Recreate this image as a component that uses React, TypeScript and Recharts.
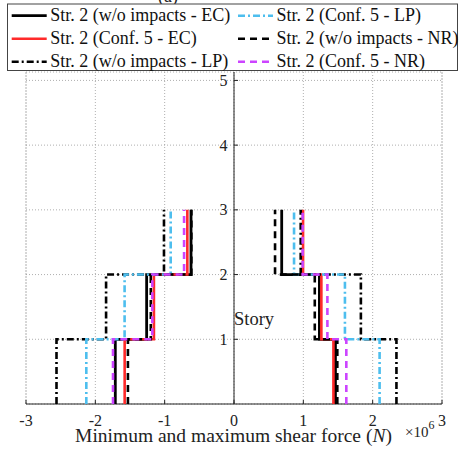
import React from 'react';
import { ScatterChart, Scatter, XAxis, YAxis, CartesianGrid, ReferenceLine } from 'recharts';

// Story levels (segment i spans stories[i] .. stories[i+1])
const stories = [0, 1, 2, 3];
const xTicks = [-3, -2, -1, 0, 1, 2, 3];
const yTicks = [1, 2, 3, 4, 5];
const edgeX = [-3, 3];

// Shear force values in units of 10^6 N, for story segments 1, 2, 3
const woEC_min = [-1.712, -1.26, -0.62];
const woEC_max = [1.463, 1.232, 0.688];
const c5EC_min = [-1.577, -1.155, -0.673];
const c5EC_max = [1.434, 1.26, 0.996];
const woLP_min = [-2.56, -1.845, -1.01];
const woLP_max = [2.343, 1.83, 0.962];
const c5LP_min = [-2.13, -1.578, -0.913];
const c5LP_max = [2.1, 1.6, 0.866];
const woNR_min = [-1.53, -1.2, -0.615];
const woNR_max = [1.49, 1.165, 0.592];
const c5NR_min = [-1.745, -1.178, -0.72];
const c5NR_max = [1.62, 1.347, 0.99];

const seriesNames = [
  'Str. 2 (w/o impacts - EC)',
  'Str. 2 (Conf. 5 - EC)',
  'Str. 2 (w/o impacts - LP)',
  'Str. 2 (Conf. 5 - LP)',
  'Str. 2 (w/o impacts - NR)',
  'Str. 2 (Conf. 5 - NR)',
];

const DASHED = '7 5';
const DASHDOT = '7 3 2 3';

const series = [
  { name: seriesNames[0], min: woEC_min, max: woEC_max, color: '#000000', width: 2.8, dash: undefined as string | undefined },
  { name: seriesNames[1], min: c5EC_min, max: c5EC_max, color: '#ff2a2a', width: 2.6, dash: undefined as string | undefined },
  { name: seriesNames[2], min: woLP_min, max: woLP_max, color: '#000000', width: 2.6, dash: DASHDOT },
  { name: seriesNames[3], min: c5LP_min, max: c5LP_max, color: '#4dbeee', width: 2.6, dash: DASHDOT },
  { name: seriesNames[4], min: woNR_min, max: woNR_max, color: '#000000', width: 2.6, dash: DASHED },
  { name: seriesNames[5], min: c5NR_min, max: c5NR_max, color: '#cc44ff', width: 2.6, dash: DASHED },
];

function stepPoints(vals: number[]) {
  const pts: { x: number; y: number }[] = [];
  vals.forEach((v, i) => {
    pts.push({ x: v, y: stories[i] });
    pts.push({ x: v, y: stories[i + 1] });
  });
  return pts;
}

const W = 459;
const H = 461;
const M = { top: 72, right: 17, bottom: 27, left: 25 };
const YW = 1;
const CX = M.left + YW + (W - M.left - YW - M.right) / 2;
const FONT = '"Liberation Serif", "Times New Roman", serif';

const NoShape = () => null;

const renderYTick = (props: any) => {
  const { y, payload } = props;
  return (
    <g>
      <text x={CX - 6.5} y={y} textAnchor="end" dominantBaseline="central" fontSize={16} fontFamily={FONT} fill="#222">
        {payload.value}
      </text>
      <line x1={CX} x2={CX + 4} y1={y} y2={y} stroke="#222" strokeWidth={1} />
    </g>
  );
};

const renderXTick = (props: any) => {
  const { x, payload } = props;
  const plotBottom = H - M.bottom - 30;
  return (
    <g>
      <text x={x} y={plotBottom + 22} textAnchor="middle" fontSize={16} fontFamily={FONT} fill="#222">
        {payload.value}
      </text>
      <line x1={x} x2={x} y1={plotBottom} y2={plotBottom - 4} stroke="#222" strokeWidth={1} />
    </g>
  );
};

const legendRows = [0, 1, 2];
const legendColX = [11.7, 238];
const legendSampleY = [15.7, 38.7, 61.7];
const legendTextY = [21.2, 44.0, 66.5];

export default function App() {
  return (
    <div style={{ position: 'absolute', left: 0, top: 0, width: W, height: H, background: '#fff' }}>
      <ScatterChart width={W} height={H} margin={M}>
        <CartesianGrid stroke="#9a9a9a" strokeDasharray="1 2" strokeWidth={0.8} />
        {edgeX.map((v) => (
          <ReferenceLine key={'e' + v} x={v} stroke="#9a9a9a" strokeDasharray="1 2" strokeWidth={0.8} />
        ))}
        <XAxis
          type="number"
          dataKey="x"
          domain={[-3, 3]}
          ticks={xTicks}
          allowDataOverflow
          height={30}
          axisLine={{ stroke: '#222', strokeWidth: 1 }}
          tickLine={false}
          tick={renderXTick}
          interval={0}
        />
        <YAxis
          type="number"
          dataKey="y"
          domain={[0, 5.13]}
          ticks={yTicks}
          allowDataOverflow
          width={YW}
          axisLine={false}
          tickLine={false}
          tick={renderYTick}
          interval={0}
        />
        <ReferenceLine x={0} stroke="#222" strokeWidth={1} />
        {series.map((s, i) => (
          <Scatter
            key={'min' + i}
            name={s.name}
            data={stepPoints(s.min)}
            shape={NoShape}
            line={{ stroke: s.color, strokeWidth: s.width, strokeDasharray: s.dash, fill: 'none' }}
            fill={s.color}
            isAnimationActive={false}
            legendType="none"
          />
        ))}
        {series.map((s, i) => (
          <Scatter
            key={'max' + i}
            name={s.name}
            data={stepPoints(s.max)}
            shape={NoShape}
            line={{ stroke: s.color, strokeWidth: s.width, strokeDasharray: s.dash, fill: 'none' }}
            fill={s.color}
            isAnimationActive={false}
            legendType="none"
          />
        ))}
      </ScatterChart>
      <svg
        width={W}
        height={H}
        style={{ position: 'absolute', left: 0, top: 0, pointerEvents: 'none' }}
        fontFamily={FONT}
      >
        <text x={168} y={1.5} textAnchor="middle" fontSize={18} fill="#222">(a)</text>
        <rect x={7.5} y={4} width={450} height={66.5} fill="#fff" stroke="#444" strokeWidth={1} />
        {legendColX.map((lx, c) =>
          legendRows.map((r) => {
            const s = series[c * 3 + r];
            return (
              <g key={c + '-' + r}>
                <line
                  x1={lx}
                  x2={lx + 35}
                  y1={legendSampleY[r]}
                  y2={legendSampleY[r]}
                  stroke={s.color}
                  strokeWidth={s.width}
                  strokeDasharray={s.dash}
                />
                <text x={lx + 38.5} y={legendTextY[r]} fontSize={18} fill="#111">
                  {s.name}
                </text>
              </g>
            );
          })
        )}
        <text x={234} y={325} fontSize={18.5} fill="#222">Story</text>
        <text x={233.5} y={441.5} textAnchor="middle" fontSize={19.5} fill="#222">
          Minimum and maximum shear force (<tspan fontStyle="italic">N</tspan>)
        </text>
        <text x={405} y={437} fontSize={15} fill="#222">
          ×10<tspan dy={-8} fontSize={12}>6</tspan>
        </text>
      </svg>
    </div>
  );
}
